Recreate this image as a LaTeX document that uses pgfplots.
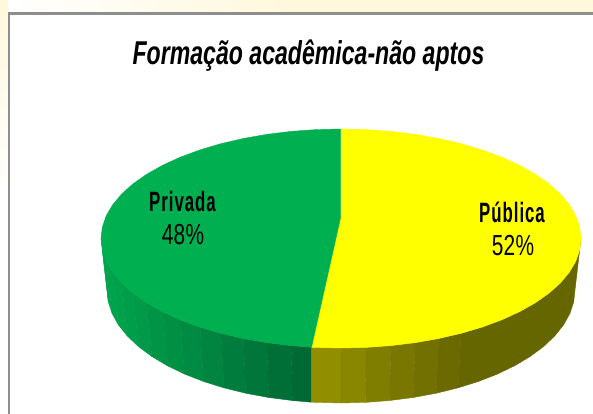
\documentclass[border=0pt]{standalone}
\usepackage{pgfplots}
\pgfplotsset{compat=1.18}
\usepackage{fontspec}
\setmainfont{Liberation Sans}
\newfontfamily\titlefont[FakeStretch=0.70]{Liberation Sans}
\newfontfamily\labelfont[FakeStretch=0.6,LetterSpace=3.5]{Liberation Sans}
\newfontfamily\numfont[FakeStretch=0.72,LetterSpace=1]{Liberation Sans}
\definecolor{gL}{HTML}{00A54D}
\definecolor{gD}{HTML}{006633}
\definecolor{gT}{HTML}{00B050}
\definecolor{yL}{HTML}{969200}
\definecolor{yD}{HTML}{666600}
\definecolor{yT}{RGB}{255,255,0}
\definecolor{cream}{HTML}{FFF8DC}
\definecolor{frameC}{HTML}{8E8E8E}
\newcommand\strip[2]{\addplot[fill=#1,draw=#1,line width=0.4pt,line join=round,mark=none] coordinates {#2} -- cycle;}
\begin{document}
\begin{tikzpicture}
\begin{axis}[
  scale only axis, width=593pt, height=414pt,
  xmin=0, xmax=593, ymin=0, ymax=414, y dir=reverse,
  hide axis, clip=true]
% background band and frame
\fill[left color=white, right color=cream, middle color=cream] (axis cs:0,0) rectangle (axis cs:593,13);
\fill[top color=cream, bottom color=white] (axis cs:0,0) rectangle (axis cs:8,190);
\addplot[draw=frameC,line width=2.2pt,mark=none] coordinates {(9,414) (9,13.5) (593,13.5)};
% side, green
\strip{gL}{(101,238.5)(102.32,249.95)(108.28,301.81)(107,290)}
\strip{gD!2!gL}{(102.32,249.95)(106.24,261.27)(112.11,313.49)(108.28,301.81)}
\strip{gD!4!gL}{(106.24,261.27)(112.75,272.34)(118.45,324.92)(112.11,313.49)}
\strip{gD!6!gL}{(112.75,272.34)(121.75,283.04)(127.23,335.96)(118.45,324.92)}
\strip{gD!11!gL}{(121.75,283.04)(133.15,293.25)(138.35,346.5)(127.23,335.96)}
\strip{gD!18!gL}{(133.15,293.25)(146.84,302.86)(151.69,356.42)(138.35,346.5)}
\strip{gD!25!gL}{(146.84,302.86)(162.65,311.77)(167.11,365.61)(151.69,356.42)}
\strip{gD!33!gL}{(162.65,311.77)(180.41,319.87)(184.42,373.98)(167.11,365.61)}
\strip{gD!42!gL}{(180.41,319.87)(199.93,327.09)(203.46,381.42)(184.42,373.98)}
\strip{gD!52!gL}{(199.93,327.09)(221,333.33)(224,387.86)(203.46,381.42)}
\strip{gD!63!gL}{(221,333.33)(243.38,338.53)(245.82,393.23)(224,387.86)}
\strip{gD!74!gL}{(243.38,338.53)(266.84,342.64)(268.69,397.47)(245.82,393.23)}
\strip{gD!85!gL}{(266.84,342.64)(291.10,345.61)(292.35,400.53)(268.69,397.47)}
\strip{gD!96!gL}{(291.10,345.61)(311.5,347.3)(311.5,402.2)(292.35,400.53)}
% side, yellow
\strip{yD!10!yL}{(311.5,347.3)(315.91,347.40)(341,348)(341,403)(316.54,402.38)(311.5,402.2)}
\strip{yD!28!yL}{(341,348)(366.09,347.40)(365.46,402.38)(341,403)}
\strip{yD!45!yL}{(366.09,347.40)(390.90,345.61)(389.65,400.53)(365.46,402.38)}
\strip{yD!61!yL}{(390.90,345.61)(415.16,342.64)(413.31,397.47)(389.65,400.53)}
\strip{yD!77!yL}{(415.16,342.64)(438.62,338.53)(436.18,393.23)(413.31,397.47)}
\strip{yD!92!yL}{(438.62,338.53)(461,333.33)(458,387.86)(436.18,393.23)}
\strip{yD}{(461,333.33)(482.07,327.09)(501.59,319.87)(519.35,311.77)(535.16,302.86)(548.85,293.25)(560.25,283.04)(569.25,272.34)(575.76,261.27)(579.68,249.95)(581,238.5)(575,290)(573.72,301.81)(569.89,313.49)(563.55,324.92)(554.77,335.96)(543.65,346.5)(530.31,356.42)(514.89,365.61)(497.58,373.98)(478.54,381.42)(458,387.86)}
% top, yellow
\strip{yT}{(340.5,129)(366.09,129.60)(390.90,131.39)(415.16,134.36)(438.62,138.47)(461,143.67)(482.07,149.91)(501.59,157.13)(519.35,165.23)(535.16,174.14)(548.85,183.75)(560.25,193.96)(569.25,204.66)(575.76,215.73)(579.68,227.05)(581,238.5)(579.68,249.95)(575.76,261.27)(569.25,272.34)(560.25,283.04)(548.85,293.25)(535.16,302.86)(519.35,311.77)(501.59,319.87)(482.07,327.09)(461,333.33)(438.62,338.53)(415.16,342.64)(390.90,345.61)(366.09,347.40)(341,348)(311.5,347.3)(340.5,218)}
% top, green
\strip{gT}{(340.5,129)(315.91,129.60)(291.10,131.39)(266.84,134.36)(243.38,138.47)(221,143.67)(199.93,149.91)(180.41,157.13)(162.65,165.23)(146.84,174.14)(133.15,183.75)(121.75,193.96)(112.75,204.66)(106.24,215.73)(102.32,227.05)(101,238.5)(102.32,249.95)(106.24,261.27)(112.75,272.34)(121.75,283.04)(133.15,293.25)(146.84,302.86)(162.65,311.77)(180.41,319.87)(199.93,327.09)(221,333.33)(243.38,338.53)(266.84,342.64)(291.10,345.61)(311.5,347.3)(340.5,218)}
% text
\node[anchor=base,inner sep=0pt] at (axis cs:308.5,65) {\titlefont\bfseries\itshape\fontsize{33}{38}\selectfont Formação acadêmica-não aptos};
\node[anchor=base,inner sep=0pt] at (axis cs:182.5,211) {\labelfont\bfseries\fontsize{28}{32}\selectfont Privada};
\node[anchor=base,inner sep=0pt] at (axis cs:183,244) {\numfont\fontsize{29}{32}\selectfont 48\%};
\node[anchor=base,inner sep=0pt] at (axis cs:512,222) {\labelfont\bfseries\fontsize{28}{32}\selectfont Pública};
\node[anchor=base,inner sep=0pt] at (axis cs:513,255) {\numfont\fontsize{29}{32}\selectfont 52\%};
\end{axis}
\end{tikzpicture}
\end{document}
